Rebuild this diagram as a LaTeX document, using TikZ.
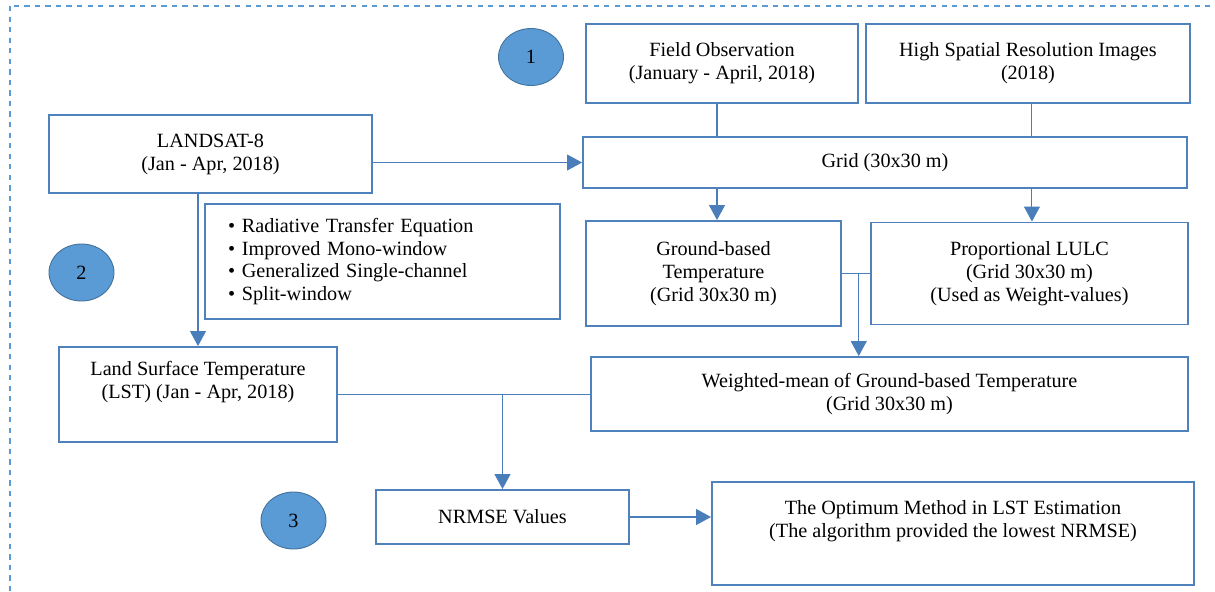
\documentclass[tikz,border=0pt]{standalone}
\usepackage{fontspec}
\setmainfont{Liberation Serif}
\usetikzlibrary{positioning, arrows.meta, shapes.geometric, calc}
\definecolor{boxblue}{HTML}{4F81BD}
\definecolor{lineblue}{HTML}{4A7EBB}
\definecolor{dotfill}{HTML}{5B9BD5}
\definecolor{dotedge}{HTML}{41719C}

\begin{document}
\begin{tikzpicture}[>={Triangle[width=0.32cm, length=0.3cm]},
		font=\fontsize{11.5}{13}\selectfont,
		box/.style = {draw=boxblue, line width=1.1pt, align=center, inner sep=2pt},
		stepdot/.style = {ellipse, draw=dotedge, fill=dotfill, line width=0.5pt, minimum width=1.3cm, minimum height=1.14cm, inner sep=0pt},
		link/.style = {draw=lineblue, line width=0.6pt},
		frame/.style = {draw=dotfill, dashed, line width=0.6pt}]
		\useasboundingbox (0,0) rectangle (24.3,-11.82);
		\clip (0,0) rectangle (24.3,-11.82);
		\draw[frame] (0.2,-0.12) rectangle (26,-13);
		% inputs
		\node[box, minimum width=5.44cm, minimum height=1.58cm] (field) at (14.44,-1.27) {Field Observation\\(January - April, 2018)};
		\node[box, minimum width=6.48cm, minimum height=1.58cm, right = 0.12cm of field] (high) {High Spatial Resolution Images\\(2018)};
		\node[box, minimum width=6.46cm, minimum height=1.56cm] (landsat) at (4.21,-3.08) {LANDSAT-8\\(Jan - Apr, 2018)};
		\node[box, minimum width=12.08cm, minimum height=1.02cm] (grid) at (17.70,-3.25) {Grid (30x30 m)};
		% algorithms
		\node[box, minimum height=2.30cm, text width=6.18cm, align=left, inner xsep=0.46cm] (methods) at (7.65,-5.23) {\textbullet\ Radiative Transfer Equation\\\textbullet\ Improved Mono-window\\\textbullet\ Generalized Single-channel\\\textbullet\ Split-window};
		\node[box, minimum width=5.10cm, minimum height=2.10cm] (ground) at (14.27,-5.47) {Ground-based\\Temperature\\(Grid 30x30 m)};
		\node[box, minimum width=6.34cm, minimum height=2.04cm, right = 0.56cm of ground] (lulc) {Proportional LULC\\(Grid 30x30 m)\\(Used as Weight-values)};
		\node[box, minimum width=5.56cm, minimum height=1.90cm] (lst) at (3.96,-7.89) {Land Surface Temperature\\(LST) (Jan - Apr, 2018)\\\strut};
		\node[box, minimum width=11.94cm, minimum height=1.48cm] (weighted) at (17.79,-7.88) {Weighted-mean of Ground-based Temperature\\(Grid 30x30 m)};
		% result
		\node[box, minimum width=5.06cm, minimum height=1.08cm] (nrmse) at (10.05,-10.34) {NRMSE Values};
		\node[box, minimum width=9.64cm, minimum height=2.06cm] (optimum) at (19.06,-10.67) {The Optimum Method in LST Estimation\\(The algorithm provided the lowest NRMSE)\\\strut};
		% step markers
		\node[stepdot] (s1) at (10.62,-1.14) {1};
		\node[stepdot] (s2) at (1.63,-5.45) {2};
		\node[stepdot] (s3) at (5.87,-10.41) {3};
		% connectors
		\draw[link] ([xshift=-0.1cm]field.south) -- ([xshift=-0.1cm]field.south |- grid.north);
		\draw[link] ([xshift=0.08cm]high.south) -- ([xshift=0.08cm]high.south |- grid.north);
		\draw[link, ->] (landsat.east |- grid.west) -- (grid.west);
		\draw[link, ->] ([xshift=0.07cm]ground.north |- grid.south) -- ([xshift=0.07cm]ground.north);
		\draw[link, ->] ([xshift=0.05cm]lulc.north |- grid.south) -- ([xshift=0.05cm]lulc.north);
		\draw[link, ->] (lst.north |- landsat.south) -- (lst.north);
		\draw[link] (ground.east) -- (ground.east -| lulc.west);
		\coordinate (join) at ($(ground.east)!0.6!(ground.east -| lulc.west)$);
		\draw[link, ->] (join) -- (join |- weighted.north);
		\draw[link] (lst.east) -- (lst.east -| weighted.west);
		\draw[link, ->] (nrmse.north |- lst.east) -- (nrmse.north);
		\draw[link, ->] (nrmse.east) -- (nrmse.east -| optimum.west);
	\end{tikzpicture}
\end{document}
